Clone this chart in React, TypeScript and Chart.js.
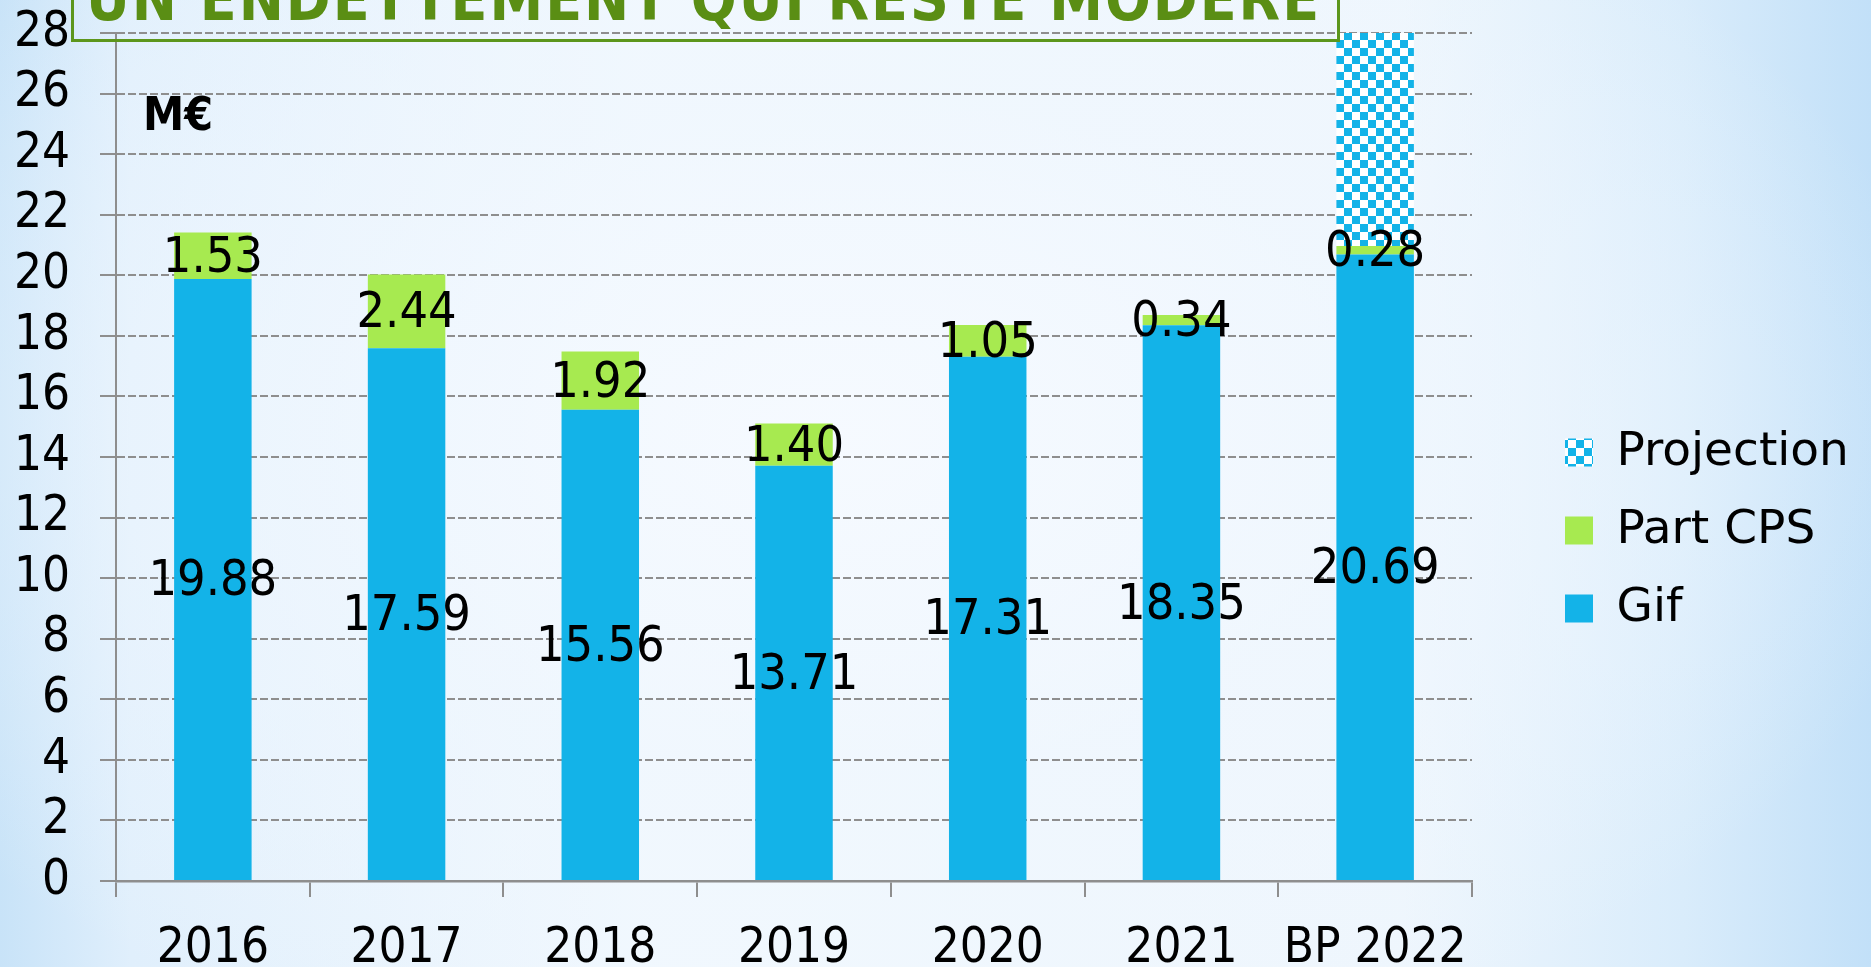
import React, { useEffect, useRef } from "react";
import { Chart, registerables } from "chart.js";

Chart.register(...registerables);

// ---- data ----
const categories = ["2016", "2017", "2018", "2019", "2020", "2021", "BP 2022"];
const gifValues = [19.88, 17.59, 15.56, 13.71, 17.31, 18.35, 20.69];
const partCpsValues = [1.53, 2.44, 1.92, 1.4, 1.05, 0.34, 0.28];
const projectionValues: (number | null)[] = [null, null, null, null, null, null, 7.03];
const yMin = 0;
const yMax = 28;
const yStep = 2;

const seriesNames = { gif: "Gif", cps: "Part CPS", projection: "Projection" };
const titleText = "UN ENDETTEMENT QUI RESTE MODÉRÉ";
const unitText = "M€";

// ---- styles ----
const GIF_COLOR = "#13b3e8";
const CPS_COLOR = "#a7ea50";
const GRID_COLOR = "#8e8e8e";
const TITLE_COLOR = "#5a8e14";
const COND = "'DejaVu Sans Condensed', 'DejaVu Sans', sans-serif";
const LEGEND_FONT_SIZE = 47;

function makeChecker(): CanvasPattern | string {
  const c = document.createElement("canvas");
  c.width = 16;
  c.height = 16;
  const g = c.getContext("2d");
  if (!g) return GIF_COLOR;
  g.fillStyle = "#ffffff";
  g.fillRect(0, 0, 16, 16);
  g.fillStyle = GIF_COLOR;
  g.fillRect(0, 0, 8, 8);
  g.fillRect(8, 8, 8, 8);
  return g.createPattern(c, "repeat") || GIF_COLOR;
}

const valueLabelPlugin = {
  id: "valueLabels",
  afterDatasetsDraw(chart: any) {
    const ctx = chart.ctx as CanvasRenderingContext2D;
    ctx.save();
    ctx.font = `50px ${COND}`;
    ctx.fillStyle = "#000";
    ctx.textAlign = "center";
    ctx.textBaseline = "middle";
    [0, 1].forEach((di) => {
      const meta = chart.getDatasetMeta(di);
      meta.data.forEach((bar: any, i: number) => {
        const v = chart.data.datasets[di].data[i];
        if (v == null) return;
        const p = bar.getProps(["x", "y", "base"], true);
        ctx.fillText(Number(v).toFixed(2), p.x, (p.y + p.base) / 2 + 3);
      });
    });
    ctx.restore();
  },
};

export default function App() {
  const canvasRef = useRef<HTMLCanvasElement | null>(null);

  useEffect(() => {
    const canvas = canvasRef.current;
    if (!canvas) return;
    const pattern = makeChecker();

    // measure legend text to place legend
    const mc = document.createElement("canvas").getContext("2d")!;
    mc.font = `${LEGEND_FONT_SIZE}px 'DejaVu Sans', sans-serif`;
    const tw = Math.max(
      mc.measureText(seriesNames.projection).width,
      mc.measureText(seriesNames.cps).width,
      mc.measureText(seriesNames.gif).width
    );
    const legendPad = 31;
    const boxW = 28;
    const legendW = legendPad + boxW + LEGEND_FONT_SIZE / 2 + tw;
    const legendLeftTarget = 1534;
    const padRight = 1871 - legendLeftTarget - legendW - 10;

    const chart = new Chart(canvas, {
      type: "bar",
      data: {
        labels: categories,
        datasets: [
          {
            label: seriesNames.gif,
            data: gifValues,
            backgroundColor: GIF_COLOR,
            borderWidth: 0,
            categoryPercentage: 0.8,
            barPercentage: 0.5,
          },
          {
            label: seriesNames.cps,
            data: partCpsValues,
            backgroundColor: CPS_COLOR,
            borderWidth: 0,
            categoryPercentage: 0.8,
            barPercentage: 0.5,
          },
          {
            label: seriesNames.projection,
            data: projectionValues,
            backgroundColor: pattern as any,
            borderWidth: 0,
            categoryPercentage: 0.8,
            barPercentage: 0.5,
          },
        ],
      },
      options: {
        animation: false,
        responsive: true,
        maintainAspectRatio: false,
        layout: { padding: { left: 0, top: 33, right: padRight, bottom: 0 } },
        plugins: {
          tooltip: { enabled: false },
          title: { display: false },
          legend: {
            display: true,
            position: "right",
            reverse: true,
            align: "center",
            maxWidth: 600,
            title: {
              display: true,
              text: " ",
              font: { size: 1, lineHeight: 1 },
              padding: { top: 30, bottom: 30 },
            },
            labels: {
              boxWidth: boxW,
              boxHeight: boxW,
              padding: legendPad,
              color: "#000",
              font: { family: "'DejaVu Sans', sans-serif", size: LEGEND_FONT_SIZE },
            },
          },
        },
        scales: {
          x: {
            stacked: true,
            offset: true,
            grid: {
              display: true,
              offset: true,
              drawOnChartArea: false,
              drawTicks: true,
              tickLength: 16,
              color: GRID_COLOR,
              lineWidth: 2,
            },
            border: { display: true, color: GRID_COLOR, width: 2.5 },
            ticks: {
              color: "#000",
              font: { family: COND, size: 49 },
              padding: 23,
              maxRotation: 0,
              autoSkip: false,
            },
            afterFit: (s: any) => {
              s.height = 86;
            },
          },
          y: {
            stacked: true,
            min: yMin,
            max: yMax,
            grid: {
              display: true,
              color: GRID_COLOR,
              lineWidth: 2,
              drawTicks: true,
              tickLength: 16,
              tickBorderDash: [],
            },
            border: { display: true, color: GRID_COLOR, width: 2, dash: [8, 3] },
            ticks: {
              stepSize: yStep,
              autoSkip: false,
              color: "#000",
              font: { family: COND, size: 49 },
              padding: 30,
            },
            afterFit: (s: any) => {
              s.width = 116;
              s.paddingTop = 0;
              s.paddingBottom = 0;
            },
          },
          y2: {
            position: "right",
            display: true,
            grid: { display: false, drawOnChartArea: false, drawTicks: false },
            border: { display: false },
            ticks: { display: false },
            afterFit: (s: any) => {
              s.width = 62;
              s.paddingTop = 0;
              s.paddingBottom = 0;
            },
          },
        },
      },
      plugins: [valueLabelPlugin],
    });
    return () => chart.destroy();
  }, []);

  return (
    <div
      style={{
        position: "fixed",
        left: 0,
        top: 0,
        width: 1871,
        height: 967,
        overflow: "hidden",
        background:
          "radial-gradient(ellipse 60% 70% at 45% 45%, rgba(246,250,255,0.95) 0%, rgba(240,247,254,0.7) 50%, rgba(230,242,252,0) 100%), linear-gradient(90deg, #c8e3f8 0%, #e0effc 7%, #f1f8fe 35%, #eef6fd 75%, #d9ecfb 90%, #c2e0f8 100%)",
      }}
    >
      <div style={{ position: "absolute", left: 0, top: 0, width: 1871, height: 967 }}>
        <canvas ref={canvasRef} />
      </div>
      <div
        style={{
          position: "absolute",
          left: 71,
          top: -60,
          width: 1269,
          height: 102,
          boxSizing: "border-box",
          border: "3px solid #5c961c",
        }}
      />
      <div
        style={{
          position: "absolute",
          left: 86,
          top: 20 - 0.846 * 60,
          fontFamily: COND,
          fontWeight: "bold",
          fontSize: 60,
          lineHeight: "60px",
          letterSpacing: 2,
          color: TITLE_COLOR,
          whiteSpace: "nowrap",
        }}
      >
        {titleText}
      </div>
      <div
        style={{
          position: "absolute",
          left: 143,
          top: 130 - 0.846 * 46,
          fontFamily: COND,
          fontWeight: "bold",
          fontSize: 46,
          lineHeight: "46px",
          color: "#000",
          whiteSpace: "nowrap",
        }}
      >
        {unitText}
      </div>
    </div>
  );
}
